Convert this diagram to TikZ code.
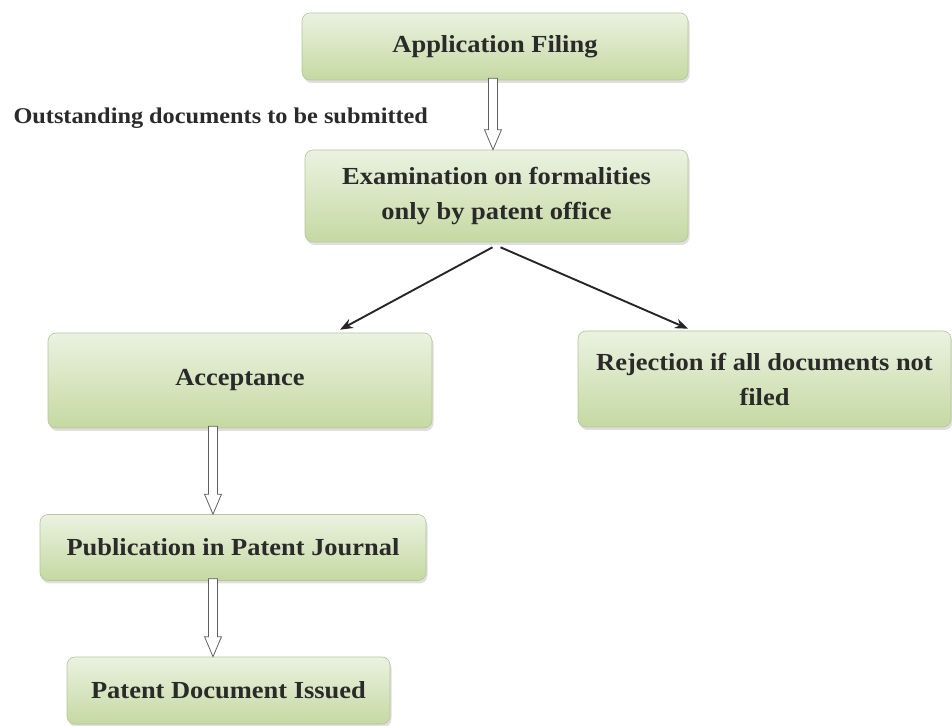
\documentclass[tikz,border=0pt]{standalone}
\usepackage{fontspec}
\setmainfont{Liberation Serif}[FakeStretch=1.08]
\usepackage{xcolor}
\usepackage{tikz}
\usetikzlibrary{arrows.meta, positioning, shadows, calc}
\definecolor{boxtop}{HTML}{EBF2E1}
\definecolor{boxbot}{HTML}{C5D9A2}
\definecolor{boxedge}{HTML}{B3C599}
\definecolor{textdark}{HTML}{2A2A2A}

\begin{document}
\begin{tikzpicture}[x=1pt, y=1pt, font=\bfseries\fontsize{24.5}{35}\selectfont,
  stepbox/.style={rectangle, rounded corners=8pt, draw=boxedge, line width=0.6pt,
    top color=boxtop, bottom color=boxbot, text=textdark, align=center, inner sep=0pt,
    drop shadow={shadow xshift=1.5pt, shadow yshift=-3pt, opacity=0.25}},
  hollow/.style={draw=gray!75!black, fill=white, line width=0.8pt, line join=miter},
  flow/.style={-{Stealth[length=13pt, width=10pt]}, line width=1.9pt, black!85}]
\useasboundingbox (0,0) rectangle (952,725);

% ---- main line ---------------------------------------------------------
\node[stepbox, minimum width=386, minimum height=67] (app) at (495,678.5)
  {Application Filing};
\node[stepbox, minimum width=383, minimum height=92] (exam) at (496.5,529)
  {Examination on formalities\\only by patent office};
\node[anchor=west, text=textdark, font=\bfseries\fontsize{22.5}{30}\selectfont] (note) at (10,607)
  {Outstanding documents to be submitted};

% ---- outcomes ----------------------------------------------------------
\node[stepbox, minimum width=384, minimum height=95] (acc) at (240,344.5)
  {Acceptance};
\node[stepbox, minimum width=373, minimum height=96] (rej) at (764.5,346)
  {Rejection if all documents not\\filed};
\node[stepbox, minimum width=386, minimum height=66] (pub) at (233,177.5)
  {Publication in Patent Journal};
\node[stepbox, minimum width=323, minimum height=67] (iss) at (228.5,34.5)
  {Patent Document Issued};

% ---- connectors --------------------------------------------------------
\draw[flow] ([xshift=-4pt,yshift=-5pt]exam.south) -- ([xshift=100pt,yshift=3pt]acc.north);
\draw[flow] ([xshift=4pt,yshift=-5pt]exam.south) -- ([xshift=-76.5pt,yshift=2pt]rej.north);

\foreach \a/\b/\dx in {app/exam/-2, acc/pub/-27, pub/iss/-20} {
  \coordinate (s) at ($(\a.south)+(\dx,2)$);
  \coordinate (t) at (s |- \b.north);
  \draw[hollow] ([xshift=-4.5pt]s) -- ([xshift=-4.5pt,yshift=20pt]t)
    -- ([xshift=-8.5pt,yshift=20pt]t) -- (t) -- ([xshift=8.5pt,yshift=20pt]t)
    -- ([xshift=4.5pt,yshift=20pt]t) -- ([xshift=4.5pt]s) -- cycle;
}
\end{tikzpicture}
\end{document}
